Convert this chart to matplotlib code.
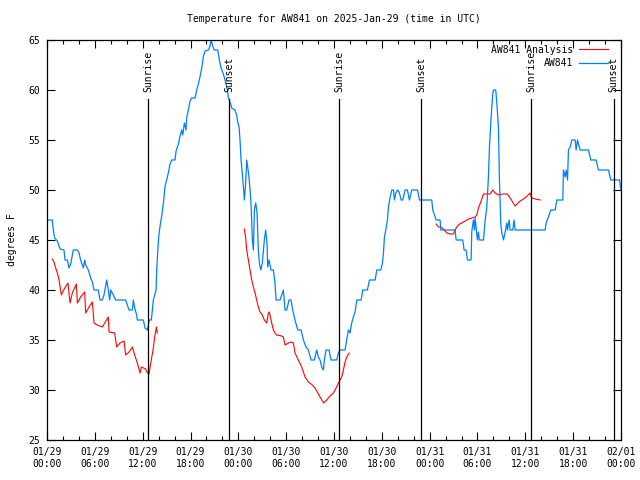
import numpy as np
import matplotlib
matplotlib.use('Agg')
from matplotlib import pyplot as plt
from matplotlib.ticker import MultipleLocator
import matplotlib.transforms as mtransforms

# hours since 2025-01-29 00:00 UTC
blue_hours = [
    0.0, 0.67, 0.79, 0.96, 1.3, 1.63, 2.13, 2.26, 2.55, 2.76, 2.97, 3.18, 3.3,
    3.6, 3.8, 4.02, 4.22, 4.56, 4.73, 4.85, 5.19, 5.48, 5.69, 5.9, 6.44, 6.65,
    6.94, 7.15, 7.49, 7.65, 7.86, 7.99, 8.32, 8.62, 9.87, 10.08, 10.29, 10.71,
    10.83, 11.0, 11.25, 11.33, 12.09, 12.3, 12.59, 12.84, 13.09,
    13.22, 13.34, 13.68, 13.76, 13.88, 14.01, 14.18, 14.39, 14.6, 14.81, 15.01,
    15.22, 15.43, 15.64, 16.06, 16.19, 16.48, 16.69, 16.9, 17.03, 17.23, 17.44,
    17.52, 17.73, 17.94, 18.15, 18.57, 18.78, 19.11, 19.41, 19.62, 19.83,
    20.25, 20.45, 20.58, 20.79, 20.96, 21.41, 21.62, 21.83, 22.12, 22.33,
    22.63, 22.75,
    22.96, 23.17, 23.58, 23.79, 23.92, 24.09, 24.21, 24.34, 24.5, 24.63, 24.76,
    24.92, 25.05, 25.17, 25.34, 25.59, 25.76, 25.89, 26.01, 26.18, 26.35,
    26.51, 26.64, 26.81, 27.01, 27.26, 27.43, 27.6, 27.68, 27.85, 28.1, 28.39,
    28.6, 28.73, 29.23, 29.52, 29.65, 29.86, 30.07, 30.36, 30.61, 30.82, 31.11,
    31.45, 31.87, 32.16, 32.49, 32.79, 33.12, 33.54, 33.83, 34.04, 34.25,
    34.46, 34.67, 34.79, 35.0, 35.38, 35.63, 36.34, 36.55, 36.76, 37.39, 37.6,
    37.8, 38.01, 38.22, 38.43, 38.64,
    38.86, 39.4, 39.61, 40.19, 40.45, 41.16, 41.37, 41.87, 42.08, 42.2, 42.33,
    42.54, 42.7, 42.83, 43.04, 43.25, 43.46, 43.58, 43.75, 44.0, 44.21, 44.42,
    44.63, 44.92, 45.21, 45.46, 45.76, 46.47, 46.72, 48.26,
    48.39, 48.81, 49.31, 49.39, 51.19, 51.32, 52.15, 52.32, 52.57, 52.74,
    52.99, 53.2, 53.28, 53.49, 53.62, 53.7, 53.82, 53.99, 54.11, 54.24, 54.75,
    54.96, 55.16, 55.37, 55.5, 55.67, 55.79, 55.92, 56.0, 56.29, 56.42, 56.63,
    56.75, 56.92, 57.05, 57.26, 57.47, 57.67, 57.76, 57.97, 58.09, 58.43,
    58.59, 58.72, 62.48, 62.61, 62.9, 63.19, 63.74, 63.95, 64.7, 64.78, 64.99,
    65.12, 65.29, 65.41, 65.62, 65.83, 66.25, 66.37, 66.54, 66.71, 66.88,
    67.92, 68.21, 68.88, 69.17, 70.43, 70.72, 71.81, 72.0]
blue_temps = [
    47, 47, 46, 45.2, 44.9, 44.1, 44, 43, 43, 42.2, 42.6, 43.5, 44,
    44, 44, 43.7, 43, 42.2, 43, 42.5, 42, 41.2, 40.8, 40, 40, 39,
    39, 39.5, 41, 40.2, 39, 40, 39.5, 39, 39, 38.5, 38, 38,
    39, 38.2, 37.5, 37, 37, 36.2, 36, 37, 37,
    38, 39, 40, 42, 43.7, 45.3, 46.4, 47.4, 48.7, 50.4, 51,
    51.7, 52.6, 53, 53, 53.9, 54.6, 55.4, 56, 55.5, 56.7, 56,
    57.2, 58, 58.9, 59.2, 59.2, 60, 61, 62.2, 63.4, 63.9,
    64, 64.4, 65, 64.4, 64, 64, 63, 62.2, 61.6, 61,
    60, 59.2,
    58.8, 58.2, 58, 57.5, 56.8, 56.3, 55, 53, 51.7, 50.3, 49,
    50.7, 53, 52.3, 51.3, 48.7, 45, 44, 48, 48.7, 47.7,
    44, 42.7, 42, 42.7, 45, 46, 44.7, 42.3, 43, 42, 42,
    40.7, 39, 39, 39.7, 40, 38, 38, 39, 39, 38, 37,
    36, 36, 35, 34.3, 34, 33, 33, 34, 33.3, 33,
    32.3, 32, 33, 34, 34, 33, 33, 33.7, 34, 34, 35,
    36, 35.7, 36.7, 37.3, 37.8,
    39, 39, 40, 40, 41, 41, 42, 42, 42.7, 43.7, 45.3,
    46.2, 47, 48.3, 49.3, 50, 50, 49, 49.7, 50, 49.7, 49,
    49, 50, 50, 49, 50, 50, 49, 49,
    48, 47, 47, 46, 46, 45, 45, 44, 44, 43,
    43, 43, 45.8, 47, 46, 47.2, 46.3, 45, 45.8, 45, 45,
    47, 48.2, 51.3, 54.3, 56.8, 58.3, 59.7, 60, 60, 58.7, 56.3,
    51, 46.7, 45.7, 45, 45.8, 46.7, 46, 47, 46, 46,
    47, 46, 46, 46.7, 47.3, 48, 48, 49, 49, 52, 51.3,
    52, 51, 54, 54.3, 55, 55, 54, 55, 54.5, 54,
    54, 53, 53, 52, 52, 51, 51, 50]

# analysis comes in three pieces
ana1_hours = [0.67, 0.88, 1.09, 1.3, 1.51, 1.8, 2.22, 2.63, 2.89, 3.18, 3.68,
              3.81, 4.22, 4.73, 4.85, 5.27, 5.69, 5.9, 6.31, 6.94, 7.24, 7.69,
              7.78, 8.49, 8.74, 9.16, 9.66, 9.87, 10.29, 10.71, 10.92, 11.33,
              11.67, 11.84, 12.38, 12.59, 12.8, 13.01, 13.3, 13.51, 13.72,
              13.84]
ana1_temps = [43.1, 42.8, 42.2, 41.7, 41, 39.5, 40.2, 40.7, 38.7, 39.7, 40.6,
              38.7, 39.3, 39.8, 37.7, 38.3, 38.8, 36.7, 36.5, 36.3, 36.7, 37.3,
              35.8, 35.7, 34.3, 34.7, 34.9, 33.5, 33.8, 34.3, 33.7, 32.7,
              31.7, 32.3, 32.1, 31.7, 31.6, 32.7, 34, 35.3, 36.3,
              35.7]
ana2_hours = [24.76, 24.92, 25.05, 25.26, 25.47, 25.68, 25.89, 26.1, 26.3,
              26.51, 26.72, 27.01, 27.26, 27.56, 27.77, 27.89, 28.19, 28.39,
              28.6, 28.81, 29.44, 29.65, 29.86, 30.28, 30.7, 30.9, 31.11,
              31.53, 31.95, 32.37, 32.79, 33.29, 33.62, 34.25, 34.71, 35.09,
              35.5, 35.92, 36.34, 36.55, 36.76, 36.97, 37.18, 37.39, 37.6,
              37.89]
ana2_temps = [46.1, 45.2, 44, 43, 42, 41, 40.3, 39.7, 39,
              38.3, 37.8, 37.5, 37, 36.7, 37.7, 37.8, 36.7, 36,
              35.7, 35.5, 35.4, 35.3, 34.5, 34.7, 34.8, 34.7, 33.7,
              33, 32.3, 31.3, 30.8, 30.5, 30.2, 29.3, 28.7, 29,
              29.4, 29.7, 30.3, 30.7, 31, 31.3, 32, 32.8, 33.3,
              33.7]
ana3_hours = [48.81, 49.1, 49.39, 49.73, 50.15, 50.56, 50.98, 51.19, 51.4,
              51.74, 52.03, 52.45, 52.86, 53.28, 53.7, 53.91, 54.12, 54.41,
              54.75, 55.16, 55.58, 55.92, 56.21, 56.63, 57.17, 57.76, 58.18,
              58.72, 59.35, 59.77, 60.1, 60.6, 60.81, 61.23, 61.86]
ana3_temps = [46.6, 46.3, 46.3, 46.1, 45.7, 45.6, 45.6, 46, 46.3,
              46.6, 46.7, 46.9, 47.1, 47.2, 47.3, 47.5, 48.2, 48.8,
              49.6, 49.6, 49.6, 50, 49.7, 49.5, 49.6, 49.6, 49.1,
              48.4, 48.9, 49.1, 49.3, 49.7, 49.2, 49.1, 49]

sun_hours = [12.71, 22.88, 36.68, 46.97, 60.73, 71.06]
sun_labels = ['Sunrise', 'Sunset', 'Sunrise', 'Sunset', 'Sunrise', 'Sunset']

tick_hours = list(range(0, 73, 6))
tick_labels = ['01/29\n00:00', '01/29\n06:00', '01/29\n12:00', '01/29\n18:00',
               '01/30\n00:00', '01/30\n06:00', '01/30\n12:00', '01/30\n18:00',
               '01/31\n00:00', '01/31\n06:00', '01/31\n12:00', '01/31\n18:00',
               '02/01\n00:00']

plt.rcParams['font.family'] = ['DejaVu Sans Mono']
fs = 7

fig = plt.figure(figsize=(6.4, 4.8), dpi=100)
ax = fig.add_axes([47 / 640, 40 / 480, 574 / 640, 400 / 480])

blue = '#0080ff'
ax.plot(ana1_hours, ana1_temps, color='red', lw=0.8, label='AW841 Analysis')
ax.plot(ana2_hours, ana2_temps, color='red', lw=0.8)
ax.plot(ana3_hours, ana3_temps, color='red', lw=0.8)
ax.plot(blue_hours, blue_temps, color=blue, lw=0.9, label='AW841')

trans = mtransforms.blended_transform_factory(ax.transData, ax.transAxes)
for t, lab in zip(sun_hours, sun_labels):
    ax.plot([t, t], [0, 0.853], color='black', lw=0.9, transform=trans)
    ax.text(t, 0.87, lab, rotation=90, ha='center', va='bottom',
            fontsize=fs, transform=trans)

ax.set_xlim(0, 72)
ax.set_ylim(25, 65)
ax.set_xticks(tick_hours)
ax.set_xticklabels(tick_labels, fontsize=fs)
ax.xaxis.set_minor_locator(MultipleLocator(2))
ax.yaxis.set_major_locator(MultipleLocator(5))
ax.tick_params(axis='both', which='both', direction='in', top=True,
               right=True, labelsize=fs, width=0.8)
ax.tick_params(axis='both', which='major', length=6, pad=5)
ax.tick_params(axis='x', which='minor', length=3)
for sp in ax.spines.values():
    sp.set_linewidth(0.9)

ax.set_ylabel('degrees F', fontsize=fs, labelpad=8)
fig.text(334 / 640, 1 - 19 / 480, 'Temperature for AW841 on 2025-Jan-29 (time in UTC)',
         ha='center', va='center', fontsize=fs)

ax.legend(loc='upper right', frameon=False, fontsize=fs, markerfirst=False,
          handlelength=3, handletextpad=0.6, borderaxespad=0.3,
          labelspacing=0.35, bbox_to_anchor=(0.99, 1.005))

fig.savefig('out.png', dpi=100)
